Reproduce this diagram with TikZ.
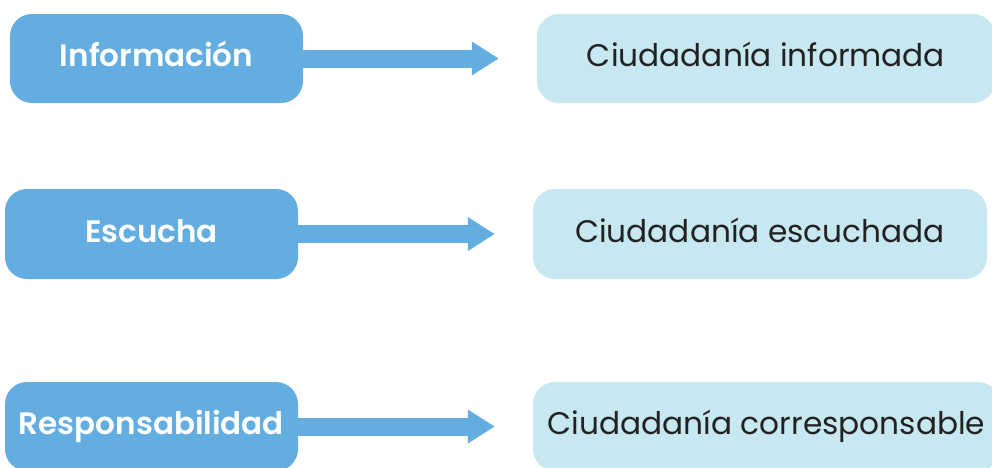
\documentclass[tikz,border=0pt]{standalone}
\usepackage{fontspec}
\setmainfont{Poppins}[BoldFont={Poppins SemiBold}]
\usetikzlibrary{arrows.meta}
\definecolor{boxblue}{RGB}{99,173,224}
\definecolor{boxlight}{RGB}{199,232,240}
\definecolor{txtdark}{RGB}{34,34,34}
\tikzset{
  keybox/.style={fill=boxblue, draw=none, rounded corners=22pt, text=white,
    font=\fontsize{31}{36}\selectfont\bfseries, inner sep=0pt, text depth=0pt,
    text height=16pt},
  resbox/.style={fill=boxlight, draw=none, rounded corners=22pt, text=txtdark,
    font=\fontsize{31.2}{38}\selectfont, inner sep=0pt, text depth=0pt,
    text height=16pt},
  flow/.style={draw=boxblue, line width=18pt,
    -{Triangle[length=27pt,width=32pt]}, shorten >=38pt}
}
\begin{document}
\begin{tikzpicture}[x=1pt,y=-1pt]
\useasboundingbox (0,0) rectangle (992,467);
\clip (0,0) rectangle (992,467);
\node[keybox, minimum width=293pt, minimum height=89pt] (b1) at (156.5,58.5) {Información};
\node[resbox, minimum width=458pt, minimum height=89pt] (c1) at (766,58.5) {Ciudadanía informada};
\node[keybox, minimum width=293pt, minimum height=90pt] (b2) at (151.5,234) {Escucha};
\node[resbox, minimum width=454pt, minimum height=90pt] (c2) at (760,234) {Ciudadanía escuchada};
\node[keybox, minimum width=293pt, minimum height=89pt] (b3) at (151.5,426.5) {Responsabilidad};
\node[resbox, minimum width=467pt, minimum height=89pt] (c3) at (766.5,426.5) {Ciudadanía corresponsable};
\draw[flow] (b1.east) -- (c1.west);
\draw[flow] (b2.east) -- (c2.west);
\draw[flow] (b3.east) -- (c3.west);
\end{tikzpicture}
\end{document}
